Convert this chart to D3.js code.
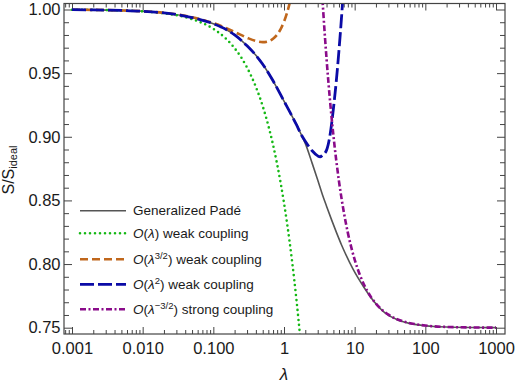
<!DOCTYPE HTML>
<html lang="en">
<head>
  <meta charset="utf-8">
  <title>S/S_ideal vs lambda</title>
  <script src="https://d3js.org/d3.v7.min.js"></script>
  <style>
    body { margin: 0; background: #fff; }
    text { font-family: "Liberation Sans", Arial, sans-serif; }
  </style>
</head>
<body>
<div id="stage"></div>

<script>
  // values (lambda, S/S_ideal)
  var padeL = [0.001, 0.002, 0.005, 0.01, 0.02, 0.05, 0.1, 0.15, 0.2, 0.3, 0.4, 0.5, 0.7, 1, 1.25, 1.5, 1.78, 2, 2.5, 3, 3.5, 4, 4.73, 5.5, 6.5, 7.3, 9.57, 13.3, 18.4, 28.4, 40, 60, 100, 200, 500, 1000];
  var padeS = [0.99985, 0.9997, 0.99925, 0.99862, 0.9973, 0.9937, 0.9888, 0.9845, 0.98, 0.9715, 0.964, 0.957, 0.944, 0.928, 0.918, 0.9095, 0.901, 0.8948, 0.8793, 0.866, 0.8545, 0.8455, 0.8345, 0.8251, 0.8152, 0.8089, 0.7956, 0.7824, 0.7712, 0.7606, 0.7563, 0.7534, 0.7515, 0.7505, 0.75013, 0.75004];

  var weak1L = [0.001, 0.002, 0.005, 0.01, 0.02, 0.05, 0.1, 0.15, 0.2, 0.3, 0.4, 0.5, 0.6, 0.7, 0.8, 0.9, 1, 1.1, 1.2, 1.3, 1.4, 1.5, 1.6, 1.7];
  var weak1S = [0.99985, 0.9997, 0.99924, 0.9985, 0.99696, 0.9924, 0.9848, 0.9772, 0.9696, 0.9544, 0.9392, 0.924, 0.9088, 0.8936, 0.8784, 0.8632, 0.848, 0.8328, 0.8176, 0.8024, 0.7872, 0.772, 0.7568, 0.7416];

  var weak32L = [0.001, 0.002, 0.005, 0.01, 0.02, 0.05, 0.1, 0.15, 0.2, 0.3, 0.4, 0.5, 0.6, 0.7, 0.8, 0.9, 1, 1.1, 1.2, 1.3];
  var weak32S = [0.99985, 0.9997, 0.99925, 0.99862, 0.99736, 0.99399, 0.9893, 0.98547, 0.98234, 0.9778, 0.97523, 0.97435, 0.97499, 0.977, 0.9803, 0.9848, 0.9904, 0.9971, 1.0048, 1.0135];

  var weak2L = [0.001, 0.002, 0.005, 0.01, 0.02, 0.05, 0.1, 0.15, 0.2, 0.3, 0.4, 0.5, 0.7, 1, 1.25, 1.5, 1.78, 2, 2.5, 3, 3.25, 3.5, 4, 4.5, 4.75, 5, 5.5, 6, 6.5, 7, 7.5];
  var weak2S = [0.99985, 0.9997, 0.99925, 0.99862, 0.9973, 0.9937, 0.9888, 0.9845, 0.98, 0.9715, 0.964, 0.957, 0.944, 0.928, 0.918, 0.9095, 0.901, 0.8965, 0.889, 0.885, 0.8843, 0.8855, 0.8895, 0.902, 0.9115, 0.922, 0.944, 0.968, 0.993, 1.019, 1.046];

  var strongL = [3.5, 3.6, 3.8, 4, 4.5, 5, 6, 7, 8, 10, 12, 15, 20, 30, 50, 70, 100, 200, 500, 1000];
  var strongS = [1.0082, 0.9975, 0.9782, 0.9613, 0.9271, 0.9012, 0.865, 0.8413, 0.8247, 0.8035, 0.7907, 0.7791, 0.7689, 0.7603, 0.7548, 0.7529, 0.7517, 0.7506, 0.75015, 0.75005];

  var xTicks = [0.001, 0.01, 0.1, 1, 10, 100, 1000];
  var xTickLabels = ["0.001", "0.010", "0.100", "1", "10", "100", "1000"];
  var yTicks = [0.75, 0.80, 0.85, 0.90, 0.95, 1.00];
  var yTickLabels = ["0.75", "0.80", "0.85", "0.90", "0.95", "1.00"];

  var W = 515, H = 385;
  var frame = {left: 64, right: 505, top: 3.5, bottom: 334};

  var svg = d3.select("#stage").append("svg")
    .attr("width", W).attr("height", H);

  var x = d3.scaleLog().domain([0.001, 1000]).range([72, 496]);
  var y = d3.scaleLinear().domain([0.75, 1.0]).range([327.7, 9.5]);

  // minor ticks: 2..9 in every decade, kept inside the frame
  var xMinor = [];
  for (var e = -4; e <= 3; e++) {
    for (var k = 2; k <= 9; k++) {
      var v = k * Math.pow(10, e);
      if (x(v) > frame.left + 0.5 && x(v) < frame.right - 0.5) xMinor.push(v);
    }
  }
  var yMinor = d3.range(75, 101).map(function (d) { return d / 100; })
    .filter(function (d) { return yTicks.indexOf(d) < 0; });

  var frameCol = "#444";

  function styleAxis(g) {
    g.select(".domain").remove();
    g.selectAll("line").attr("stroke", frameCol).attr("stroke-width", 1);
    g.selectAll("text").attr("fill", "#1a1a1a").style("font-size", "16.5px")
      .style("font-family", '"Liberation Sans", Arial, sans-serif');
  }

  // bottom
  svg.append("g").attr("transform", "translate(0," + frame.bottom + ")")
    .call(d3.axisBottom(x).tickValues(xTicks).tickSizeInner(-7).tickSizeOuter(0).tickPadding(8)
      .tickFormat(function (d, i) { return xTickLabels[i]; }))
    .call(styleAxis);
  svg.append("g").attr("transform", "translate(0," + frame.bottom + ")")
    .call(d3.axisBottom(x).tickValues(xMinor).tickSizeInner(-4).tickSizeOuter(0).tickFormat(""))
    .call(styleAxis);
  // top
  svg.append("g").attr("transform", "translate(0," + frame.top + ")")
    .call(d3.axisTop(x).tickValues(xTicks).tickSizeInner(-7).tickSizeOuter(0).tickFormat(""))
    .call(styleAxis);
  svg.append("g").attr("transform", "translate(0," + frame.top + ")")
    .call(d3.axisTop(x).tickValues(xMinor).tickSizeInner(-4).tickSizeOuter(0).tickFormat(""))
    .call(styleAxis);
  // left
  svg.append("g").attr("transform", "translate(" + frame.left + ",0)")
    .call(d3.axisLeft(y).tickValues(yTicks).tickSizeInner(-8).tickSizeOuter(0).tickPadding(3.5)
      .tickFormat(function (d, i) { return yTickLabels[i]; }))
    .call(styleAxis);
  svg.append("g").attr("transform", "translate(" + frame.left + ",0)")
    .call(d3.axisLeft(y).tickValues(yMinor).tickSizeInner(-5).tickSizeOuter(0).tickFormat(""))
    .call(styleAxis);
  // right
  svg.append("g").attr("transform", "translate(" + frame.right + ",0)")
    .call(d3.axisRight(y).tickValues(yTicks).tickSizeInner(-8).tickSizeOuter(0).tickFormat(""))
    .call(styleAxis);
  svg.append("g").attr("transform", "translate(" + frame.right + ",0)")
    .call(d3.axisRight(y).tickValues(yMinor).tickSizeInner(-5).tickSizeOuter(0).tickFormat(""))
    .call(styleAxis);

  svg.append("clipPath").attr("id", "plotclip").append("rect")
    .attr("x", frame.left).attr("y", frame.top)
    .attr("width", frame.right - frame.left).attr("height", frame.bottom - frame.top);

  var series = [
    {name: "pade", L: padeL, S: padeS, color: "#555555", width: 1.6, dash: null, cap: "butt"},
    {name: "weak1", L: weak1L, S: weak1S, color: "#14b814", width: 2.6, dash: "0,5", cap: "round"},
    {name: "weak32", L: weak32L, S: weak32S, color: "#c0671c", width: 2.6, dash: "8,4", cap: "butt"},
    {name: "weak2", L: weak2L, S: weak2S, color: "#0b0ba6", width: 2.8, dash: "14,4", cap: "butt"},
    {name: "strong", L: strongL, S: strongS, color: "#8a0b8a", width: 2.6, dash: "6,2.5,2,2.5", cap: "butt"}
  ];

  var line = d3.line()
    .x(function (d) { return x(d[0]); })
    .y(function (d) { return y(d[1]); })
    .curve(d3.curveMonotoneX);

  var plot = svg.append("g").attr("clip-path", "url(#plotclip)");
  series.forEach(function (s) {
    var pts = s.L.map(function (l, i) { return [l, s.S[i]]; });
    plot.append("path").datum(pts)
      .attr("d", line)
      .attr("fill", "none")
      .attr("stroke", s.color)
      .attr("stroke-width", s.width)
      .attr("stroke-linecap", s.cap)
      .attr("stroke-dasharray", s.dash);
  });

  // frame
  svg.append("rect")
    .attr("x", frame.left).attr("y", frame.top)
    .attr("width", frame.right - frame.left).attr("height", frame.bottom - frame.top)
    .attr("fill", "none").attr("stroke", frameCol).attr("stroke-width", 1.2);

  // legend
  var legendRows = [210.7, 233.3, 259.3, 284.3, 309.3];
  var legendParts = [
    [{t: "Generalized Padé"}],
    [{t: "O", i: 1}, {t: "("}, {t: "λ", i: 1}, {t: ") weak coupling"}],
    [{t: "O", i: 1}, {t: "("}, {t: "λ", i: 1}, {t: "3/2", sup: 1}, {t: ") weak coupling"}],
    [{t: "O", i: 1}, {t: "("}, {t: "λ", i: 1}, {t: "2", sup: 1}, {t: ") weak coupling"}],
    [{t: "O", i: 1}, {t: "("}, {t: "λ", i: 1}, {t: "−3/2", sup: 1}, {t: ") strong coupling"}]
  ];
  var legend = svg.append("g");
  series.forEach(function (s, i) {
    var ly = legendRows[i];
    legend.append("line")
      .attr("x1", 80).attr("x2", 126).attr("y1", ly).attr("y2", ly)
      .attr("stroke", s.color).attr("stroke-width", s.width)
      .attr("stroke-linecap", s.cap).attr("stroke-dasharray", s.dash);
    var txt = legend.append("text").attr("x", 133).attr("y", ly).attr("dy", "0.35em")
      .style("font-size", "13.5px").attr("fill", "#1a1a1a");
    var raised = false;
    legendParts[i].forEach(function (p) {
      var ts = txt.append("tspan").text(p.t);
      if (p.i) ts.style("font-style", "italic");
      if (p.sup) { ts.style("font-size", "9.5px").attr("dy", -5.5); raised = true; }
      else if (raised) { ts.attr("dy", 5.5); raised = false; }
    });
  });

  // axis labels
  var ylab = svg.append("text")
    .attr("transform", "translate(14,170) rotate(-90)")
    .attr("text-anchor", "middle")
    .style("font-size", "16px").attr("fill", "#1a1a1a");
  ylab.append("tspan").text("S/S");
  ylab.append("tspan").text("ideal").style("font-size", "11px").attr("dy", 3);

  svg.append("text")
    .attr("x", x(1)).attr("y", 380)
    .attr("text-anchor", "middle")
    .style("font-size", "17px").style("font-style", "italic").attr("fill", "#1a1a1a")
    .text("λ");
</script>
</body>
</html>
